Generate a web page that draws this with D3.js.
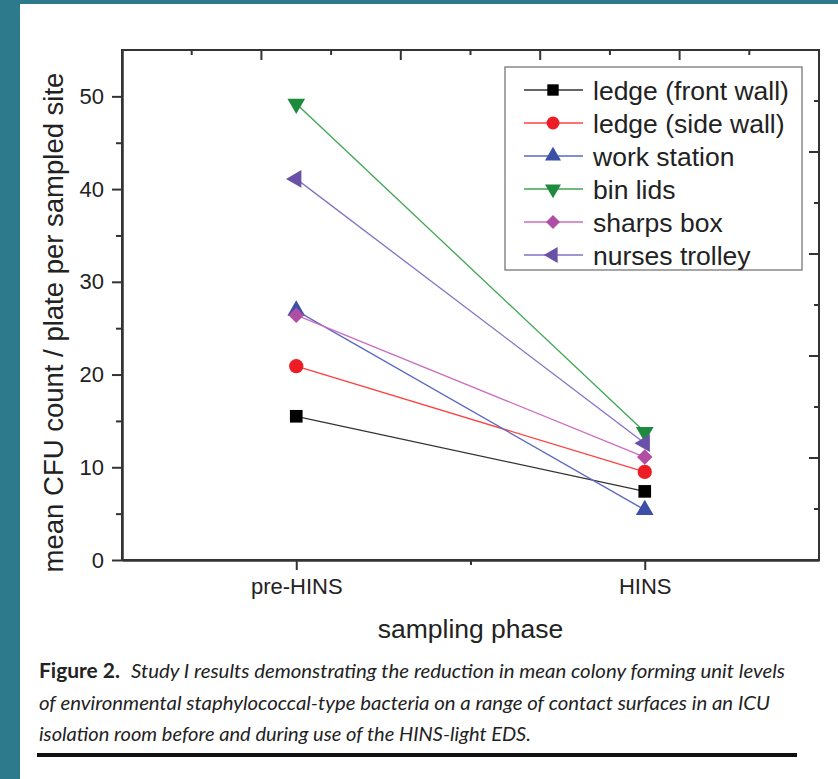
<!DOCTYPE html>
<html>
<head>
<meta charset="utf-8">
<script src="https://cdn.jsdelivr.net/npm/d3@7"></script>
<style>
  html, body { margin: 0; padding: 0; background: #fff; }
  svg { display: block; }
</style>
</head>
<body>
<svg id="chart"></svg>
<script>
// chart values
var phases = ["pre-HINS", "HINS"];
var sites = ["ledge (front wall)", "ledge (side wall)", "work station", "bin lids", "sharps box", "nurses trolley"];
var preHINS = [15.5, 20.9, 26.9, 49.2, 26.4, 41.1];
var hins = [7.4, 9.5, 5.4, 13.8, 11.1, 12.6];
var yTicks = [0, 10, 20, 30, 40, 50];

var markerColors = ["#000000", "#ee1c24", "#3b4fa6", "#1d8a3e", "#b04ea3", "#6950a8"];
var lineColors = ["#333333", "#ff4040", "#5a68c0", "#3fa552", "#cc6cc0", "#8670c4"];
var shapes = ["square", "circle", "triangleUp", "triangleDown", "diamond", "triangleLeft"];

var width = 838,
    height = 779,
    plotLeft = 122,
    plotRight = 819,
    plotTop = 50,
    plotBottom = 560;

var svg = d3.select("#chart")
    .attr("width", width)
    .attr("height", height);

// teal page border
svg.append("rect").attr("x", 0).attr("y", 0).attr("width", width).attr("height", height).attr("fill", "#2e7a8d");
svg.append("rect").attr("x", 20).attr("y", 4).attr("width", width - 20).attr("height", height - 4).attr("fill", "#fff");

var x = d3.scaleLinear().domain([0.5, 2.5]).range([plotLeft, plotRight]);
var y = d3.scaleLinear().domain([0, 55]).range([plotBottom, plotTop]);
var yRight = d3.scaleLinear().domain([0, 10]).range([plotBottom, plotTop]);

var axisColor = "#333";
var fontFamily = "'Liberation Sans', Arial, sans-serif";

// left axis: major ticks outward with labels, minor ticks between
svg.append("g")
    .attr("transform", "translate(" + plotLeft + ",0)")
    .call(d3.axisLeft(y).tickValues(yTicks).tickSize(10).tickPadding(8).tickSizeOuter(0));
svg.append("g")
    .attr("transform", "translate(" + plotLeft + ",0)")
    .call(d3.axisLeft(y).tickValues([5, 15, 25, 35, 45]).tickSize(6).tickFormat("").tickSizeOuter(0));

// bottom axis
svg.append("g")
    .attr("transform", "translate(0," + plotBottom + ")")
    .call(d3.axisBottom(x).tickValues([1, 2]).tickSize(10).tickPadding(8).tickSizeOuter(0)
        .tickFormat(function (d) { return phases[d - 1]; }));
svg.append("g")
    .attr("transform", "translate(0," + plotBottom + ")")
    .call(d3.axisBottom(x).tickValues([1.5]).tickSize(5).tickFormat("").tickSizeOuter(0));

// top axis (Origin mirror axis, ticks inward)
var topTicks = d3.range(0, 11).map(function (i) { return 0.5 + i * 0.2; });
svg.append("g")
    .attr("transform", "translate(0," + plotTop + ")")
    .selectAll("line")
    .data(topTicks)
    .enter()
    .append("line")
    .attr("x1", function (d) { return x(d); })
    .attr("x2", function (d) { return x(d); })
    .attr("y1", 0)
    .attr("y2", function (d, i) { return i % 2 == 0 ? 10 : 5; })
    .attr("stroke", axisColor)
    .attr("stroke-width", 2);

// right axis, ticks inward
svg.append("g")
    .attr("transform", "translate(" + plotRight + ",0)")
    .selectAll("line")
    .data(d3.range(0, 11))
    .enter()
    .append("line")
    .attr("y1", function (d) { return yRight(d); })
    .attr("y2", function (d) { return yRight(d); })
    .attr("x1", 0)
    .attr("x2", function (d) { return d % 2 == 0 ? -10 : -5; })
    .attr("stroke", axisColor)
    .attr("stroke-width", 2);

// frame
svg.append("rect")
    .attr("x", plotLeft)
    .attr("y", plotTop)
    .attr("width", plotRight - plotLeft)
    .attr("height", plotBottom - plotTop)
    .attr("fill", "none")
    .attr("stroke", axisColor)
    .attr("stroke-width", 2);

svg.selectAll(".tick line").attr("stroke", axisColor).attr("stroke-width", 2);
svg.selectAll(".domain").attr("stroke", axisColor).attr("stroke-width", 2);
svg.selectAll(".tick text")
    .attr("fill", "#222")
    .style("font-family", fontFamily)
    .style("font-size", "22px");

// axis titles
svg.append("text")
    .attr("x", (plotLeft + plotRight) / 2)
    .attr("y", 638)
    .attr("text-anchor", "middle")
    .attr("fill", "#222")
    .style("font-family", fontFamily)
    .style("font-size", "26.5px")
    .text("sampling phase");

svg.append("text")
    .attr("transform", "translate(63," + ((77 + 568) / 2) + ") rotate(-90)")
    .attr("text-anchor", "middle")
    .attr("fill", "#222")
    .style("font-family", fontFamily)
    .style("font-size", "27.5px")
    .text("mean CFU count / plate per sampled site");

function markerPath(shape, size) {
    if (shape == "square") return d3.symbol().type(d3.symbolSquare).size(size)();
    if (shape == "circle") return d3.symbol().type(d3.symbolCircle).size(size)();
    if (shape == "diamond") return d3.symbol().type(d3.symbolSquare).size(size * 0.75)();
    return d3.symbol().type(d3.symbolTriangle).size(size * 0.85)();
}

function markerRotate(shape) {
    if (shape == "triangleDown") return 180;
    if (shape == "triangleLeft") return -90;
    if (shape == "diamond") return 45;
    return 0;
}

// series lines and markers
var line = d3.line()
    .x(function (d) { return x(d.phase); })
    .y(function (d) { return y(d.value); });

sites.forEach(function (site, i) {
    var points = [{ phase: 1, value: preHINS[i] }, { phase: 2, value: hins[i] }];
    var g = svg.append("g").attr("class", "series");
    g.append("path")
        .datum(points)
        .attr("d", line)
        .attr("fill", "none")
        .attr("stroke", lineColors[i])
        .attr("stroke-width", 1.3);
    g.selectAll("path.marker")
        .data(points)
        .enter()
        .append("path")
        .attr("class", "marker")
        .attr("d", markerPath(shapes[i], 160))
        .attr("transform", function (d) {
            return "translate(" + x(d.phase) + "," + y(d.value) + ") rotate(" + markerRotate(shapes[i]) + ")";
        })
        .attr("fill", markerColors[i]);
});

// legend
var legend = svg.append("g");
legend.append("rect")
    .attr("x", 505)
    .attr("y", 67)
    .attr("width", 297)
    .attr("height", 203)
    .attr("fill", "#fff")
    .attr("stroke", "#777")
    .attr("stroke-width", 1.3);

var rows = legend.selectAll("g.row")
    .data(sites)
    .enter()
    .append("g")
    .attr("class", "row")
    .attr("transform", function (d, i) { return "translate(0," + (90 + i * 33) + ")"; });

rows.append("line")
    .attr("x1", 524)
    .attr("x2", 583)
    .attr("stroke", function (d, i) { return lineColors[i]; })
    .attr("stroke-width", 1.3);
rows.append("path")
    .attr("d", function (d, i) { return markerPath(shapes[i], 130); })
    .attr("transform", function (d, i) { return "translate(553,0) rotate(" + markerRotate(shapes[i]) + ")"; })
    .attr("fill", function (d, i) { return markerColors[i]; });
rows.append("text")
    .attr("x", 593)
    .attr("y", 9.5)
    .attr("fill", "#222")
    .style("font-family", fontFamily)
    .style("font-size", "26.5px")
    .text(function (d) { return d; });

// caption
var capFont = "Lato, 'Open Sans', sans-serif";
var cap1 = svg.append("text")
    .attr("x", 39)
    .attr("y", 678)
    .attr("fill", "#222")
    .style("font-family", capFont)
    .style("font-size", "20px");
cap1.append("tspan")
    .style("font-weight", "bold")
    .attr("textLength", 81)
    .attr("lengthAdjust", "spacingAndGlyphs")
    .text("Figure 2.");
cap1.append("tspan")
    .attr("x", 131)
    .style("font-style", "italic")
    .attr("textLength", 654)
    .attr("lengthAdjust", "spacingAndGlyphs")
    .text("Study I results demonstrating the reduction in mean colony forming unit levels");

svg.append("text")
    .attr("x", 39)
    .attr("y", 710)
    .attr("fill", "#222")
    .style("font-family", capFont)
    .style("font-size", "20px")
    .style("font-style", "italic")
    .attr("textLength", 731)
    .attr("lengthAdjust", "spacingAndGlyphs")
    .text("of environmental staphylococcal-type bacteria on a range of contact surfaces in an ICU");

svg.append("text")
    .attr("x", 39)
    .attr("y", 741)
    .attr("fill", "#222")
    .style("font-family", capFont)
    .style("font-size", "20px")
    .style("font-style", "italic")
    .attr("textLength", 492)
    .attr("lengthAdjust", "spacingAndGlyphs")
    .text("isolation room before and during use of the HINS-light EDS.");

svg.append("line")
    .attr("x1", 37)
    .attr("x2", 797)
    .attr("y1", 755)
    .attr("y2", 755)
    .attr("stroke", "#111")
    .attr("stroke-width", 4);
</script>
</body>
</html>
